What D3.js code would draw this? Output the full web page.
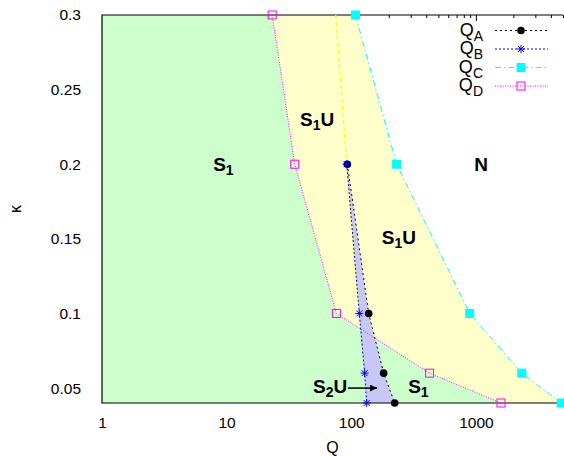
<!DOCTYPE html>
<html>
<head>
<meta charset="utf-8">
<script src="https://cdn.jsdelivr.net/npm/d3@7"></script>
<style>
  body { margin: 0; background: #fff; }
  svg { font-family: "Liberation Sans", Arial, sans-serif; }
</style>
</head>
<body>
<svg id="chart" width="564" height="456"></svg>
<script>
// phase diagram, kappa against Q (log axis)

const kappaAB = [0.2, 0.1, 0.06, 0.04];
const qA = [93, 138, 182, 223];
const qB = [92, 116, 128, 133];
const kappaCD = [0.3, 0.2, 0.1, 0.06, 0.04];
const qC = [108, 231, 892, 2336, 4840];
const qD = [23.2, 35.2, 76, 425, 1590];
const kappaEdge = [0.3, 0.2, 0.1];
const qEdge = [75, 92, 116];
const seriesNames = ["A", "B", "C", "D"];
const xTicks = [1, 10, 100, 1000];
const xTickLabels = ["1", "10", "100", "1000"];
const yTicks = [0.05, 0.1, 0.15, 0.2, 0.25, 0.3];
const yTickLabels = ["0.05", "0.1", "0.15", "0.2", "0.25", "0.3"];

const svg = d3.select("#chart"),
  width = +svg.attr("width"),
  height = +svg.attr("height");
const margin = { top: 15, right: 1, bottom: 53, left: 102 };

const x = d3.scaleLog().domain([1, 5000]).range([margin.left, width - margin.right]);
const y = d3.scaleLinear().domain([0.04, 0.3]).range([height - margin.bottom, margin.top]);
const x0 = x.range()[0], x1 = x.range()[1], y0 = y.range()[0], y1 = y.range()[1];

const pts = (qs, ks) => qs.map((q, i) => ({ q: q, k: ks[i] }));
const ptsA = pts(qA, kappaAB), ptsB = pts(qB, kappaAB);
const ptsC = pts(qC, kappaCD), ptsD = pts(qD, kappaCD);
const ptsEdge = pts(qEdge, kappaEdge);

const line = d3.line().x(d => x(d.q)).y(d => y(d.k));

// top minor / major ticks (sit under the fills, only show on white)
const minor = [];
for (let p = 1; p <= 1000; p *= 10)
  for (let m = 2; m <= 9; m++) if (m * p <= 5000) minor.push(m * p);
svg.append("g").attr("transform", `translate(0,${y1})`)
  .call(d3.axisTop(x).tickValues(minor).tickSize(-3).tickFormat(""))
  .call(g => g.select(".domain").remove());
svg.append("g").attr("transform", `translate(0,${y1})`)
  .call(d3.axisTop(x).tickValues(xTicks).tickSize(-6).tickFormat(""))
  .call(g => g.select(".domain").remove());

// regions
svg.append("path")
  .attr("d", line([{ q: 1, k: 0.3 }].concat(ptsD, [{ q: 1, k: 0.04 }])) + "Z")
  .attr("fill", "#ccffcc");
svg.append("path")
  .attr("d", line(ptsD.concat(ptsC.slice().reverse())) + "Z")
  .attr("fill", "#ffffcc");
svg.append("path")
  .attr("d", line(ptsB.concat(ptsA.slice().reverse())) + "Z")
  .attr("fill", "#c8c8f6");

// border
svg.append("path")
  .attr("d", `M${x1},${y1}H${x0}V${y0}H${x1}`)
  .attr("fill", "none").attr("stroke", "#000").attr("stroke-width", 1.2);

// tick labels
svg.append("g").attr("transform", `translate(0,${y0})`)
  .call(d3.axisBottom(x).tickValues(xTicks).tickSize(0).tickPadding(14)
    .tickFormat((d, i) => xTickLabels[i]))
  .call(g => g.select(".domain").remove())
  .selectAll("text").attr("font-size", 15.5).attr("fill", "#000")
  .attr("font-family", "Liberation Sans, Arial, sans-serif");
svg.append("g").attr("transform", `translate(${x0},0)`)
  .call(d3.axisLeft(y).tickValues(yTicks).tickSize(0).tickPadding(21)
    .tickFormat((d, i) => yTickLabels[i]))
  .call(g => g.select(".domain").remove())
  .selectAll("text").attr("font-size", 15.5).attr("fill", "#000")
  .attr("font-family", "Liberation Sans, Arial, sans-serif");

svg.append("text").attr("x", (x0 + x1) / 2).attr("y", 453)
  .attr("text-anchor", "middle").attr("font-size", 16).text("Q");
svg.append("text").attr("transform", `translate(21,${(y0 + y1) / 2}) rotate(-90)`)
  .attr("text-anchor", "middle").attr("font-size", 16).text("κ");

// series styles
const styles = [
  { color: "#000000", dash: "2,3" },
  { color: "#0000ff", dash: "2,2" },
  { color: "#00ffff", dash: "6,3,1.5,3" },
  { color: "#ff00ff", dash: "1,1.5" }
];
const seriesPts = [ptsA, ptsB, ptsC, ptsD];

svg.append("path").attr("d", line(ptsEdge))
  .attr("fill", "none").attr("stroke", "#ffff00").attr("stroke-width", 1.3)
  .attr("stroke-dasharray", "4,3");

seriesPts.forEach((p, i) => {
  svg.append("path").attr("d", line(p))
    .attr("fill", "none").attr("stroke", styles[i].color)
    .attr("stroke-width", 1).attr("stroke-dasharray", styles[i].dash);
});

const star = "M-4,0H4M0,-4V4M-3,-3L3,3M-3,3L3,-3";
function marker(g, i, cx, cy) {
  if (i === 0) g.append("circle").attr("cx", cx).attr("cy", cy).attr("r", 3.8).attr("fill", "#000");
  if (i === 1) g.append("path").attr("d", star).attr("transform", `translate(${cx},${cy})`)
    .attr("stroke", "#0000ff").attr("stroke-width", 1).attr("fill", "none");
  if (i === 2) g.append("rect").attr("x", cx - 4.5).attr("y", cy - 4.5).attr("width", 9).attr("height", 9)
    .attr("fill", "#00ffff");
  if (i === 3) g.append("rect").attr("x", cx - 4).attr("y", cy - 4).attr("width", 8).attr("height", 8)
    .attr("fill", "none").attr("stroke", "#ff00ff").attr("stroke-width", 1);
}

const marks = svg.append("g");
[0, 1, 2, 3].forEach(i => seriesPts[i].forEach(d => marker(marks, i, x(d.q), y(d.k))));

// region labels
function label(q, k, main, sub, tail) {
  const t = svg.append("text").attr("x", x(q)).attr("y", y(k))
    .attr("font-size", 19).attr("font-weight", "bold");
  t.append("tspan").text(main);
  if (sub) t.append("tspan").attr("dy", 4).attr("font-size", 14).text(sub);
  if (tail) t.append("tspan").attr("dy", -4).text(tail);
}
label(7.8, 0.1955, "S", "1", "");
label(38.8, 0.2256, "S", "1", "U");
label(968, 0.1955, "N", "", "");
label(176, 0.1466, "S", "1", "U");
label(49.4, 0.0467, "S", "2", "U");
label(286, 0.0467, "S", "1", "");

// arrow S2U -> wedge
svg.append("defs").append("marker").attr("id", "head")
  .attr("viewBox", "0 0 10 10").attr("refX", 10).attr("refY", 5)
  .attr("markerWidth", 9).attr("markerHeight", 7).attr("orient", "auto")
  .attr("markerUnits", "userSpaceOnUse")
  .append("path").attr("d", "M0,0L10,5L0,10Z").attr("fill", "#000");
svg.append("line")
  .attr("x1", x(94)).attr("x2", x(161)).attr("y1", y(0.05)).attr("y2", y(0.05))
  .attr("stroke", "#000").attr("stroke-width", 1.5).attr("marker-end", "url(#head)");

// legend
const legend = svg.append("g");
seriesNames.forEach((name, i) => {
  const ly = 30.5 + i * 18.5;
  const t = legend.append("text").attr("x", 483).attr("y", ly + 5)
    .attr("text-anchor", "end").attr("font-size", 18);
  t.append("tspan").text("Q");
  t.append("tspan").attr("dy", 5).attr("font-size", 14).text(name);
  legend.append("line").attr("x1", 495).attr("x2", 548).attr("y1", ly).attr("y2", ly)
    .attr("stroke", styles[i].color).attr("stroke-dasharray", styles[i].dash);
  marker(legend, i, 521, ly);
});
</script>
</body>
</html>
